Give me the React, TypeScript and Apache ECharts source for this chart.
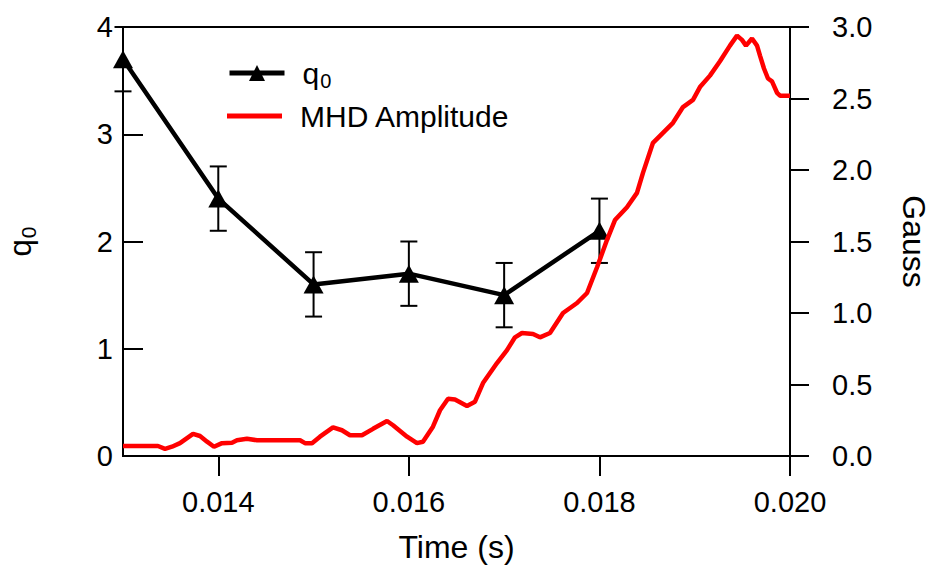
import React, { useEffect, useRef } from 'react';
import * as echarts from 'echarts';

// q0 measurements (left axis)
const q0Times = [0.013, 0.014, 0.015, 0.016, 0.017, 0.018];
const q0Values = [3.7, 2.4, 1.6, 1.7, 1.5, 2.1];
const q0Errors = [0.3, 0.3, 0.3, 0.3, 0.3, 0.3];

// MHD amplitude trace (right axis, Gauss)
const mhdTimes = [
  0.013, 0.013367, 0.013441, 0.013514, 0.013598, 0.013735, 0.013808, 0.013882, 0.013955, 0.014039,
  0.014144, 0.014196, 0.014301, 0.014406, 0.014858, 0.01491, 0.014984, 0.015067, 0.015204, 0.015298,
  0.015382, 0.015508, 0.015624, 0.015771, 0.015834, 0.015981, 0.016085, 0.016148, 0.016253, 0.016327,
  0.016411, 0.016484, 0.01661, 0.016694, 0.016778, 0.016925, 0.01703, 0.017114, 0.017187, 0.017303,
  0.017376, 0.017481, 0.017618, 0.017765, 0.01787, 0.017975, 0.018079, 0.018163, 0.018289, 0.018394,
  0.018457, 0.018562, 0.018667, 0.018772, 0.018877, 0.018982, 0.019055, 0.01916, 0.019265, 0.01937,
  0.019444, 0.019496, 0.019538, 0.019601, 0.019654, 0.019685, 0.019727, 0.019769, 0.019811, 0.019864,
  0.019895, 0.02,
];
const mhdGauss = [
  0.07, 0.07, 0.05, 0.065, 0.09, 0.155, 0.14, 0.1, 0.065, 0.09,
  0.093, 0.11, 0.12, 0.11, 0.11, 0.09, 0.09, 0.135, 0.2, 0.18,
  0.145, 0.145, 0.19, 0.245, 0.215, 0.135, 0.09, 0.1, 0.205, 0.32,
  0.4, 0.395, 0.35, 0.38, 0.51, 0.65, 0.74, 0.83, 0.86, 0.853,
  0.83, 0.86, 1.0, 1.07, 1.14, 1.32, 1.51, 1.65, 1.74, 1.84,
  1.98, 2.19, 2.26, 2.33, 2.44, 2.49, 2.58, 2.66, 2.76, 2.87,
  2.94, 2.91, 2.87, 2.92, 2.87, 2.8, 2.71, 2.64, 2.62, 2.54,
  2.52, 2.52,
];

const xTicks = [0.014, 0.016, 0.018, 0.02];

const FONT = 'Liberation Sans, Arial, Helvetica, sans-serif';

export default function App() {
  const ref = useRef<HTMLDivElement>(null);

  useEffect(() => {
    if (!ref.current) return;
    const chart = echarts.init(ref.current, null, { renderer: 'svg' });

    const q0Data = q0Times.map((t, i) => [t, q0Values[i]]);
    const errData = q0Times.map((t, i) => [t, q0Values[i] - q0Errors[i], q0Values[i] + q0Errors[i]]);
    const mhdData = mhdTimes.map((t, i) => [t, mhdGauss[i]]);

    const axisLineStyle = { color: '#000', width: 2 };

    chart.setOption({
      animation: false,
      backgroundColor: '#fff',
      textStyle: { fontFamily: FONT, color: '#000' },
      grid: {
        left: 123,
        right: 142,
        top: 27,
        bottom: 114,
        show: true,
        borderColor: '#000',
        borderWidth: 2,
        backgroundColor: 'transparent',
        outerBoundsMode: 'none',
        containLabel: false,
      },
      legend: [
        {
          left: 227,
          top: 58,
          padding: 0,
          itemWidth: 55,
          itemHeight: 20,
          data: ['q0'],
          formatter: () => '{q|q}{s|0}',
          lineStyle: { width: 5, color: '#000' },
          textStyle: {
            fontFamily: FONT,
            color: '#000',
            rich: {
              q: { fontSize: 30, lineHeight: 36, fontFamily: FONT, color: '#000', padding: [0, 0, 0, 13] },
              s: { fontSize: 20, lineHeight: 20, fontFamily: FONT, color: '#000', verticalAlign: 'bottom', padding: [0, 0, 0, 1] },
            },
          },
        },
        {
          left: 227,
          top: 101,
          padding: 0,
          itemWidth: 55,
          itemHeight: 5,
          data: [{ name: 'MHD Amplitude', icon: 'rect' }],
          formatter: (name: string) => `{t|${name}}`,
          textStyle: {
            fontFamily: FONT,
            color: '#000',
            rich: {
              t: { fontSize: 30, lineHeight: 30, fontFamily: FONT, color: '#000', padding: [0, 0, 0, 13] },
            },
          },
        },
      ],
      xAxis: {
        type: 'value',
        min: 0.013,
        max: 0.02,
        name: 'Time (s)',
        nameLocation: 'middle',
        nameGap: 75,
        nameTextStyle: { fontSize: 32, color: '#000', fontFamily: FONT },
        axisLine: { show: true, onZero: false, lineStyle: axisLineStyle },
        axisTick: { show: true, inside: false, length: 20, customValues: xTicks, lineStyle: axisLineStyle },
        axisLabel: {
          customValues: xTicks,
          formatter: (v: number) => v.toFixed(3),
          fontSize: 29,
          margin: 31,
          color: '#000',
          fontFamily: FONT,
        },
        splitLine: { show: false },
      },
      yAxis: [
        {
          type: 'value',
          min: 0,
          max: 4,
          interval: 1,
          position: 'left',
          name: '{q|q}{s|0}',
          nameLocation: 'middle',
          nameGap: 84,
          nameTextStyle: {
            color: '#000',
            fontFamily: FONT,
            rich: {
              q: { fontSize: 31, lineHeight: 38, fontFamily: FONT, color: '#000' },
              s: { fontSize: 21, lineHeight: 21, fontFamily: FONT, color: '#000', verticalAlign: 'bottom', padding: [0, 0, 0, 1] },
            },
          },
          axisLine: { show: true, lineStyle: axisLineStyle },
          axisTick: { show: true, inside: true, length: 20, lineStyle: axisLineStyle },
          axisLabel: { fontSize: 29, margin: 10, color: '#000', fontFamily: FONT },
          splitLine: { show: false },
        },
        {
          type: 'value',
          min: 0,
          max: 3,
          interval: 0.5,
          position: 'right',
          name: 'Gauss',
          nameLocation: 'middle',
          nameRotate: -90,
          nameGap: 108,
          nameTextStyle: { fontSize: 32, color: '#000', fontFamily: FONT },
          axisLine: { show: true, lineStyle: axisLineStyle },
          axisTick: { show: true, inside: false, length: 19, lineStyle: axisLineStyle },
          axisLabel: {
            fontSize: 29,
            margin: 42,
            color: '#000',
            fontFamily: FONT,
            formatter: (v: number) => v.toFixed(1),
          },
          splitLine: { show: false },
        },
      ],
      series: [
        {
          name: 'q0 error',
          type: 'custom',
          xAxisIndex: 0,
          yAxisIndex: 0,
          z: 1,
          clip: false,
          data: errData,
          encode: { x: 0, y: [1, 2] },
          renderItem: (params: any, api: any) => {
            const x = api.value(0);
            const lo = api.coord([x, api.value(1)]);
            const hi = api.coord([x, api.value(2)]);
            const hw = 8.5;
            const style = { stroke: '#000', lineWidth: 2, fill: 'none' };
            return {
              type: 'group',
              children: [
                { type: 'line', shape: { x1: hi[0], y1: hi[1], x2: lo[0], y2: lo[1] }, style },
                { type: 'line', shape: { x1: hi[0] - hw, y1: hi[1], x2: hi[0] + hw, y2: hi[1] }, style },
                { type: 'line', shape: { x1: lo[0] - hw, y1: lo[1], x2: lo[0] + hw, y2: lo[1] }, style },
              ],
            };
          },
        },
        {
          name: 'q0',
          type: 'line',
          xAxisIndex: 0,
          yAxisIndex: 0,
          z: 2,
          data: q0Data,
          symbol: 'triangle',
          symbolSize: [20, 18],
          showSymbol: true,
          clip: false,
          lineStyle: { color: '#000', width: 4.5 },
          itemStyle: { color: '#000' },
          color: '#000',
        },
        {
          name: 'MHD Amplitude',
          type: 'line',
          xAxisIndex: 0,
          yAxisIndex: 1,
          z: 3,
          data: mhdData,
          symbol: 'none',
          showSymbol: false,
          lineStyle: { color: '#ff0000', width: 4.5 },
          itemStyle: { color: '#ff0000' },
          color: '#ff0000',
        },
      ],
    });

    return () => chart.dispose();
  }, []);

  return (
    <div
      ref={ref}
      style={{ position: 'fixed', left: 0, top: 0, width: 932, height: 570, background: '#fff' }}
    />
  );
}
